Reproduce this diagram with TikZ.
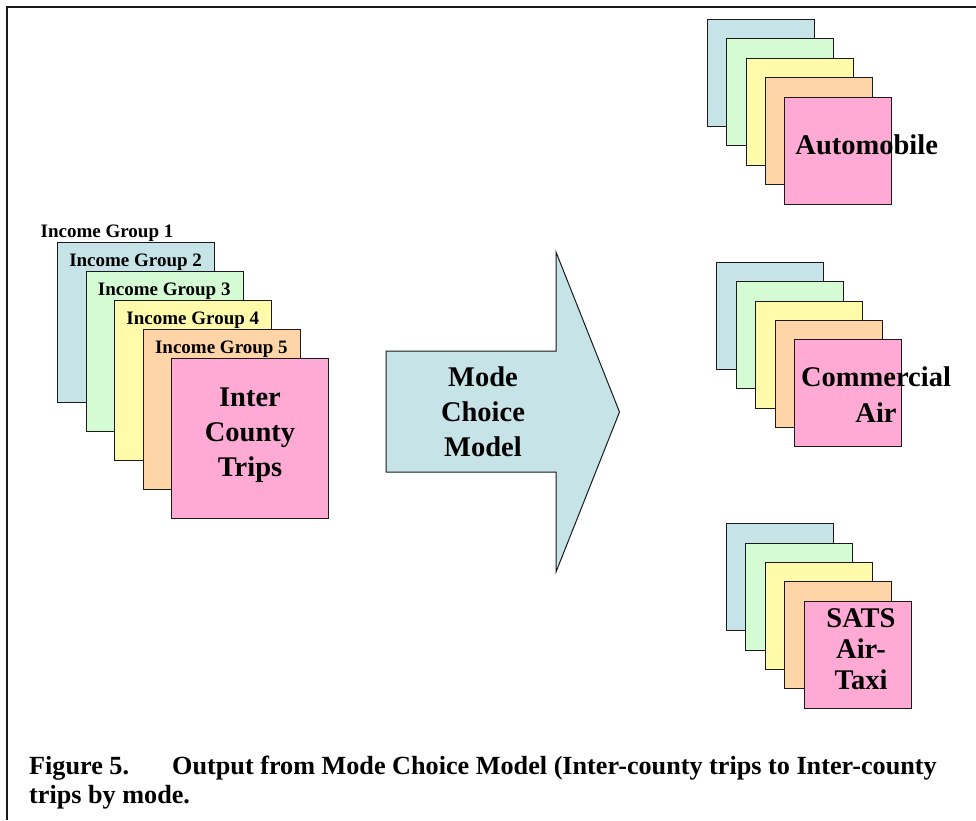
\documentclass[tikz,border=0pt]{standalone}
\usepackage{fontspec}
\setmainfont{Liberation Serif}
\definecolor{sA}{HTML}{C6E4E8}
\definecolor{sB}{HTML}{D5FBD5}
\definecolor{sC}{HTML}{FFFBAA}
\definecolor{sD}{HTML}{FFD5A8}
\definecolor{sE}{HTML}{FFAAD5}
\definecolor{edge}{HTML}{1A1A1A}
\tikzset{
  sheet/.style={draw=edge, line width=1pt, inner sep=0pt, anchor=north west},
  bigsheet/.style={sheet, minimum width=157pt, minimum height=159.5pt},
  smallsheet/.style={sheet, minimum width=107pt, minimum height=107pt},
  grouplabel/.style={font=\bfseries\fontsize{19}{22}\selectfont, inner sep=0pt, anchor=base},
  bigtext/.style={font=\bfseries\fontsize{28.5}{35}\selectfont, align=center, inner sep=0pt},
  captext/.style={font=\bfseries\fontsize{26.2}{29}\selectfont, inner sep=0pt, anchor=base west},
}
\begin{document}
\begin{tikzpicture}[x=1pt,y=-1pt]
\useasboundingbox (0,0) rectangle (976,820);
% frame
\draw[line width=2pt, edge] (976,7) -- (7,7) -- (7,820);

% left stack
\foreach \i/\c in {1/sA,2/sB,3/sC,4/sD,5/sE}{
  \node[bigsheet, fill=\c] (l\i) at ({57+28.6*(\i-1)},{242+29*(\i-1)}) {};
  \node[grouplabel] (g\i) at ({107+28.6*(\i-1)},{237+29*(\i-1)}) {Income Group \i};
}
\node[bigtext] (ict) at (250,435.2) {Inter\\County\\Trips};

% big arrow
\draw[line width=1pt, edge, fill=sA] (386,351) -- (556,351) -- (556,252) -- (619.5,412) -- (556,572) -- (556,472) -- (386,472) -- cycle;
\node[bigtext] (mcm) at (483,412) {Mode\\Choice\\Model};

% automobile stack
\foreach \i/\c in {1/sA,2/sB,3/sC,4/sD,5/sE}{
  \node[smallsheet, fill=\c] (a\i) at ({706.7+19.4*(\i-1)},{19+19.4*(\i-1)}) {};
}
\node[bigtext, anchor=base] (auto) at (866.7,154) {Automobile};

% commercial air stack
\foreach \i/\c in {1/sA,2/sB,3/sC,4/sD,5/sE}{
  \node[smallsheet, fill=\c] (c\i) at ({716+19.6*(\i-1)},{261.7+19.4*(\i-1)}) {};
}
\node[bigtext, font=\bfseries\fontsize{28.5}{36}\selectfont] (comm) at (876,395) {Commercial\\Air};

% SATS stack
\foreach \i/\c in {1/sA,2/sB,3/sC,4/sD,5/sE}{
  \node[smallsheet, fill=\c] (s\i) at ({726+19.4*(\i-1)},{523.3+19.35*(\i-1)}) {};
}
\node[bigtext, font=\bfseries\fontsize{28.5}{31}\selectfont] (sats) at (861,648.7) {SATS\\Air-\\Taxi};

% caption
\node[captext] (fig) at (29,774.3) {Figure 5.};
\node[captext] (cap1) at (172,774.3) {Output from Mode Choice Model (Inter-county trips to Inter-county};
\node[captext] (cap2) at (29,803.3) {trips by mode.};
\end{tikzpicture}
\end{document}
